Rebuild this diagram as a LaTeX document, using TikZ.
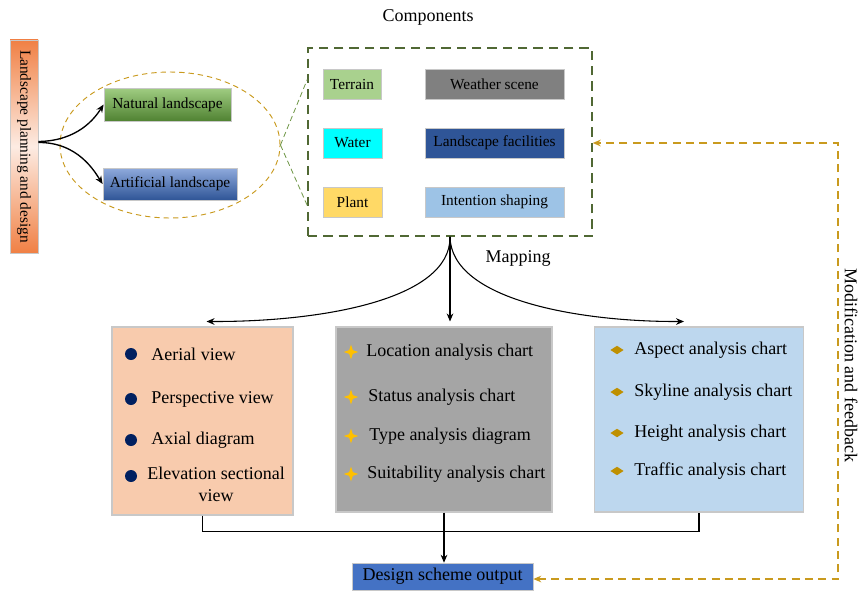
\documentclass[tikz,border=0pt]{standalone}
\usepackage{fontspec}
\setmainfont{Liberation Serif}
\usetikzlibrary{positioning,calc,shapes.geometric,arrows.meta}

\definecolor{boxgray}{RGB}{200,200,200}
\definecolor{orangeL}{RGB}{240,128,68}
\definecolor{gold}{RGB}{201,154,30}
\definecolor{olive}{RGB}{80,104,52}
\definecolor{linegreen}{RGB}{110,150,70}
\definecolor{navy}{RGB}{0,32,96}
\definecolor{starcol}{RGB}{255,192,0}
\definecolor{diacol}{RGB}{191,144,0}
\definecolor{aqua}{RGB}{0,255,255}

\begin{document}
\begin{tikzpicture}[x=0.75pt,y=-0.75pt,
    small/.style={font=\fontsize{11.5}{13}\selectfont},
    big/.style={font=\fontsize{13.5}{16.5}\selectfont},
    box/.style={draw=boxgray, line width=0.6pt, inner sep=0pt, small},
    panel/.style={draw=boxgray, line width=0.8pt},
    item/.style={anchor=west, inner sep=0pt, big},
    dotmark/.style={circle, fill=navy, minimum size=9pt, inner sep=0pt},
    starmark/.style={star, star points=4, star point ratio=2.8, fill=starcol, minimum size=11pt, inner sep=0pt},
    diamark/.style={diamond, aspect=1.6, fill=diacol, minimum width=10pt, minimum height=6.5pt, inner sep=0pt},
    feedback/.style={draw=gold, dash pattern=on 6pt off 4pt, line width=1pt},
    >={Stealth[length=6pt,width=5pt]}
  ]
  \useasboundingbox (0,0) rectangle (862,590);

  % left part
  \node[rotate=-90, minimum width=160pt, minimum height=21pt, inner sep=0pt,
    top color=orangeL, bottom color=orangeL, middle color=white!85!orangeL, draw=boxgray, small]
    (planning) at (24,146.5) {Landscape planning and design};
  \node[ellipse, draw=gold, dash pattern=on 4pt off 3pt, line width=0.7pt,
    minimum width=165pt, minimum height=109.5pt] (group) at (170,145) {};
  \node[box, top color={rgb,255:red,160;green,205;blue,130}, bottom color={rgb,255:red,80;green,130;blue,50},
    minimum width=95.25pt, minimum height=24.75pt] (natural) at (167.5,104.5) {Natural landscape};
  \node[box, top color={rgb,255:red,143;green,170;blue,220}, bottom color={rgb,255:red,47;green,85;blue,151},
    minimum width=100.5pt, minimum height=24pt] (artificial) at (170,184) {Artificial landscape};

  \draw[->, line width=1pt] ($(planning.north)+(0,-5)$) .. controls (78,141) and (95,118) .. (natural.west);
  \draw[->, line width=1pt] ($(planning.north)+(0,-4)$) .. controls (78,142) and (95,172) .. (artificial.west);

  % components
  \node[draw=olive, dash pattern=on 7pt off 4.5pt, line width=1.1pt,
    minimum width=213pt, minimum height=141pt] (comp) at (450,142) {};
  \node[big] (comptitle) at (428,17) {Components};
  \node[box, fill={rgb,255:red,169;green,209;blue,142}, minimum width=43.5pt, minimum height=22.5pt] (terrain) at (352,84) {Terrain};
  \node[box, fill={rgb,255:red,128;green,128;blue,128}, minimum width=104.25pt, minimum height=22.5pt] (weather) at (494.5,84) {Weather scene};
  \node[box, fill=aqua, minimum width=44.25pt, minimum height=22.5pt] (water) at (352.5,143) {Water};
  \node[box, fill={rgb,255:red,47;green,85;blue,151}, minimum width=104.25pt, minimum height=22.5pt] (facilities) at (494.5,143) {Landscape facilities};
  \node[box, fill={rgb,255:red,255;green,217;blue,102}, minimum width=44.25pt, minimum height=22.5pt] (plant) at (352.5,202) {Plant};
  \node[box, fill={rgb,255:red,157;green,195;blue,230}, minimum width=104.25pt, minimum height=22.5pt] (intention) at (494.5,202) {Intention shaping};

  \draw[linegreen, dash pattern=on 4pt off 2.5pt, line width=0.6pt] (group.east) -- ($(comp.north west)!0.17!(comp.south west)$);
  \draw[linegreen, dash pattern=on 4pt off 2.5pt, line width=0.6pt] (group.east) -- ($(comp.north west)!0.835!(comp.south west)$);

  % drawings
  \node[panel, fill={rgb,255:red,248;green,203;blue,173}, minimum width=135.75pt, minimum height=141pt] (views) at (202.5,421) {};
  \node[panel, fill={rgb,255:red,165;green,165;blue,165}, minimum width=162pt, minimum height=138.75pt] (analyses) at (444,419.5) {};
  \node[panel, fill={rgb,255:red,189;green,215;blue,238}, minimum width=156.75pt, minimum height=138.75pt] (charts) at (699,419.5) {};

  \draw[->, line width=0.8pt] (comp.south) .. controls (451,300) and (320,322) .. ($(views.north)+(4,-5)$);
  \draw[->, line width=0.8pt] (comp.south) -- ($(comp.south |- analyses.north)+(0,-5)$);
  \draw[->, line width=0.8pt] (comp.south) .. controls (451,300) and (580,322) .. ($(charts.north)+(-15,-5)$);
  \node[big] (mapping) at (518,258) {Mapping};

  \node[dotmark] (d1) at (131,354) {};
  \node[item] (aerial) at (151,354) {Aerial view};
  \node[dotmark] (d2) at (131,399) {};
  \node[item] (perspective) at (151,399) {Perspective view};
  \node[dotmark] (d3) at (131,440) {};
  \node[item] (axial) at (151,440) {Axial diagram};
  \node[dotmark] (d4) at (131,476) {};
  \node[big, align=center, inner sep=0pt] (elevation) at (216,484) {Elevation sectional\\view};

  \node[starmark] (s1) at (351,352) {};
  \node[item] (location) at (366,352) {Location analysis chart};
  \node[starmark] (s2) at (351,397) {};
  \node[item] (status) at (368,397) {Status analysis chart};
  \node[starmark] (s3) at (351,436) {};
  \node[item] (type) at (369,436) {Type analysis diagram};
  \node[starmark] (s4) at (351,474) {};
  \node[item] (suitability) at (367,474) {Suitability analysis chart};

  \node[diamark] (m1) at (617,350) {};
  \node[item] (aspect) at (634,350) {Aspect analysis chart};
  \node[diamark] (m2) at (617,392) {};
  \node[item] (skyline) at (634,392) {Skyline analysis chart};
  \node[diamark] (m3) at (617,433) {};
  \node[item] (height) at (634,433) {Height analysis chart};
  \node[diamark] (m4) at (617,471) {};
  \node[item] (traffic) at (634,471) {Traffic analysis chart};

  % output
  \node[draw=boxgray, fill={rgb,255:red,68;green,114;blue,196}, minimum width=135.75pt, minimum height=20.25pt,
    inner sep=0pt, big] (output) at (442.5,576.5) {Design scheme output};

  \draw[line width=0.8pt] (views.south) -- ++(0,16) -| (charts.south);
  \draw[->, line width=0.8pt] (analyses.south) -- (analyses.south |- output.north);

  \coordinate (fbcorner) at (838,579);
  \draw[feedback, <->] (output.east |- fbcorner) -- (fbcorner) -- (fbcorner |- 0,143) -- (comp.east |- 0,143);
  \node[big, rotate=-90] (fblabel) at (851,365) {Modification and feedback};
\end{tikzpicture}
\end{document}
